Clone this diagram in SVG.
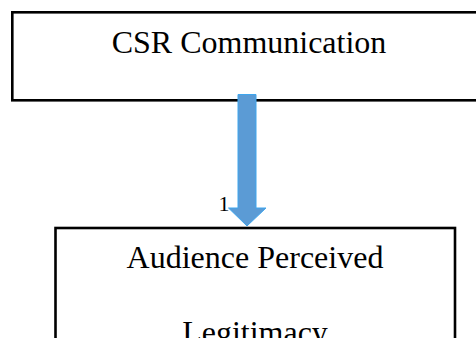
<svg xmlns="http://www.w3.org/2000/svg" width="476" height="338" viewBox="0 0 476 338">
<style>
.box{fill:#fff;stroke:#000;stroke-width:2.6}
.t{font-family:"Liberation Serif","Times New Roman",serif;fill:#000;text-anchor:middle}
</style>
<rect width="476" height="338" fill="#fff"/>
<g id="csr">
<rect class="box" x="12.3" y="12.3" width="480" height="88"/>
<text class="t" x="249" y="53" font-size="32">CSR Communication</text>
</g>
<g id="apl">
<rect class="box" x="55.5" y="228" width="399.5" height="130"/>
<text class="t" x="255" y="268" font-size="32">Audience Perceived</text>
<text class="t" x="255" y="343" font-size="32">Legitimacy</text>
</g>
<g id="connectors">
<path d="M238,94.5 H256 V208 H266 L247,226 L228.5,208 H238 Z" fill="#5B9BD5" stroke="#3FA6EE" stroke-width="1"/>
<text class="t" x="224" y="211" font-size="22">1</text>
</g>
</svg>
